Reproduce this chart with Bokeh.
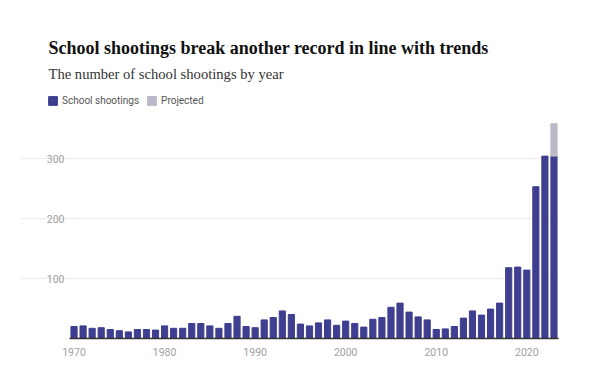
from bokeh.plotting import figure
from bokeh.models import Label, Legend, LegendItem, FixedTicker, ColumnDataSource
from bokeh.embed import file_html
from bokeh.resources import INLINE

years = list(range(1970, 2024))
shootings = [20, 21, 17, 18, 15, 13, 11, 15, 15, 14,
             21, 17, 17, 25, 25, 21, 17, 25, 37, 20,
             18, 31, 35, 46, 40, 24, 21, 26, 31, 22,
             29, 25, 19, 32, 35, 52, 59, 44, 36, 31,
             15, 16, 20, 34, 46, 39, 49, 59, 118, 119,
             114, 253, 304, 304]
projected_years = [2023]
projected_values = [358]
x_ticks = [1970, 1980, 1990, 2000, 2010, 2020]
y_ticks = [100, 200, 300]

BAR = "#3f3f91"
PROJ = "#b9b9c9"

FRAME_L = 20
FRAME_W = 538
FRAME_H = 318
X_END = 2023.5
X_FIRST = 1969.5
X_START = X_END - FRAME_W * (X_END - X_FIRST) / 489.0

p = figure(frame_width=FRAME_W, frame_height=FRAME_H,
           x_range=(X_START, X_END), y_range=(0, 530),
           output_backend="svg", toolbar_location=None,
           min_border_left=FRAME_L, min_border_right=32,
           min_border_top=20, min_border_bottom=42)
p.outline_line_color = None
p.background_fill_color = "white"
p.border_fill_color = "white"

src = ColumnDataSource(dict(x=years, top=shootings))
r1 = p.vbar(x="x", top="top", width=0.68, source=src, color=BAR)
proj_bottom = [shootings[years.index(y)] for y in projected_years]
r2 = p.vbar(x=projected_years, bottom=proj_bottom, top=projected_values,
            width=0.68, color=PROJ)

# axes
p.xaxis.ticker = FixedTicker(ticks=x_ticks)
p.xaxis.bounds = (X_FIRST, X_END)
p.xaxis.major_tick_line_color = None
p.xaxis.minor_tick_line_color = None
p.xaxis.axis_line_color = "#333333"
p.xaxis.axis_line_width = 1.6
p.xaxis.major_label_text_color = "#a0a0a0"
p.xaxis.major_label_text_font = "Roboto"
p.xaxis.major_label_text_font_size = "10.5px"
p.xaxis.major_label_standoff = 3

p.yaxis.ticker = FixedTicker(ticks=y_ticks)
p.yaxis.fixed_location = X_FIRST
p.yaxis.major_tick_line_color = None
p.yaxis.minor_tick_line_color = None
p.yaxis.axis_line_color = None
p.yaxis.major_label_text_color = "#a0a0a0"
p.yaxis.major_label_text_font = "Roboto"
p.yaxis.major_label_text_font_size = "10.5px"
p.yaxis.major_label_standoff = -1

p.xgrid.grid_line_color = None
p.ygrid.ticker = FixedTicker(ticks=y_ticks)
p.ygrid.bounds = (X_FIRST, X_END)
p.ygrid.grid_line_color = "#ececec"
p.ygrid.grid_line_width = 1

# titles (screen units relative to frame bottom-left)
title = Label(x=48 - FRAME_L, y=290.5, x_units="screen", y_units="screen",
              text="School shootings break another record in line with trends",
              text_font="Liberation Serif", text_font_style="bold",
              text_font_size="18px", text_color="#111111",
              text_baseline="alphabetic")
subtitle = Label(x=48 - FRAME_L, y=264.5, x_units="screen", y_units="screen",
                 text="The number of school shootings by year",
                 text_font="Liberation Serif", text_font_size="14.6px",
                 text_color="#333333", text_baseline="alphabetic")
p.add_layout(title)
p.add_layout(subtitle)

legend = Legend(items=[LegendItem(label="School shootings", renderers=[r1]),
                       LegendItem(label="Projected", renderers=[r2])],
                location=(47 - FRAME_L, 232.5), orientation="horizontal",
                glyph_width=11, glyph_height=11, label_height=11,
                label_standoff=4, spacing=7, padding=0, margin=0,
                border_line_color=None, background_fill_alpha=0,
                label_text_font="Roboto", label_text_font_size="10px",
                label_text_color="#555555")
p.add_layout(legend)

open("out.html", "w").write(file_html(p, INLINE))
